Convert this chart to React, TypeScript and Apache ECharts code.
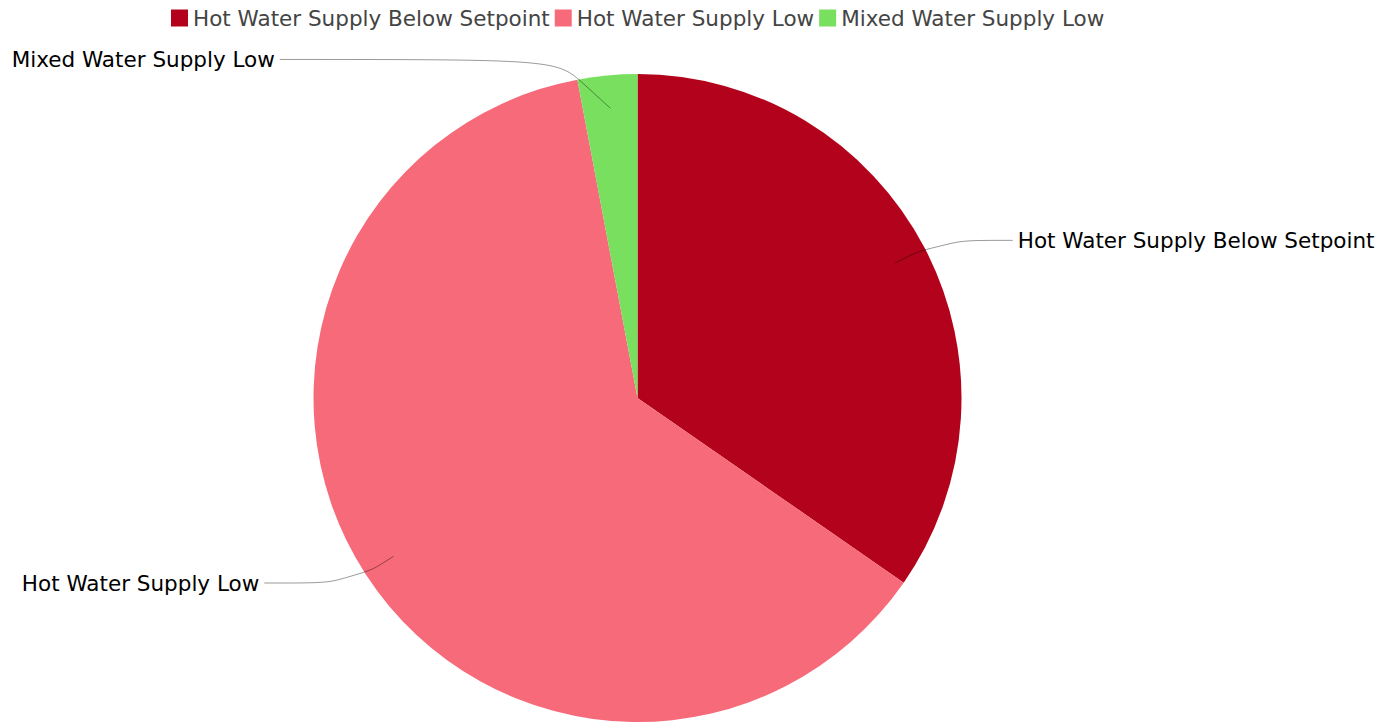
import React, { useEffect, useRef } from "react";
import * as echarts from "echarts";

const categories = [
  "Hot Water Supply Below Setpoint",
  "Hot Water Supply Low",
  "Mixed Water Supply Low",
];
const values = [35, 63, 3];
const colors = ["#B3021B", "#F76A7A", "#78DF5F"];
const labelTails = [74, 88, 326];
const labelSmooth = [0.5, 0.5, 1];

export default function App() {
  const ref = useRef<HTMLDivElement>(null);
  useEffect(() => {
    document.body.style.margin = "0";
    const chart = echarts.init(ref.current!, null, { renderer: "svg" });
    const font = "DejaVu Sans";
    chart.setOption({
      animation: false,
      color: colors,
      legend: {
        top: 2,
        left: 166,
        itemWidth: 17,
        itemHeight: 17,
        itemGap: 5,
        icon: "rect",
        textStyle: { fontFamily: font, fontSize: 21.5, color: "#444" },
        data: categories,
      },
      series: [
        {
          type: "pie",
          center: [637.5, 398],
          radius: 324,
          startAngle: 90,
          clockwise: true,
          silent: true,
          label: { show: false },
          labelLine: { show: false },
          data: categories.map((name, i) => ({
            name,
            value: values[i],
            itemStyle: { color: colors[i] },
          })),
        },
        {
          type: "pie",
          center: [637.5, 398],
          radius: 291,
          startAngle: 90,
          clockwise: true,
          silent: true,
          z: 5,
          avoidLabelOverlap: false,
          itemStyle: { color: "rgba(0,0,0,0)" },
          label: {
            show: true,
            position: "outside",
            fontFamily: font,
            fontSize: 21.5,
            color: "#000",
            overflow: "none",
          },
          labelLine: {
            show: true,
            length: 49,
            lineStyle: { color: "rgba(0,0,0,0.4)", width: 1 },
          },
          data: categories.map((name, i) => ({
            name,
            value: values[i],
            labelLine: { length2: labelTails[i], smooth: labelSmooth[i] },
          })),
        },
      ],
    });
    return () => chart.dispose();
  }, []);
  return <div ref={ref} style={{ width: 1393, height: 723 }} />;
}
